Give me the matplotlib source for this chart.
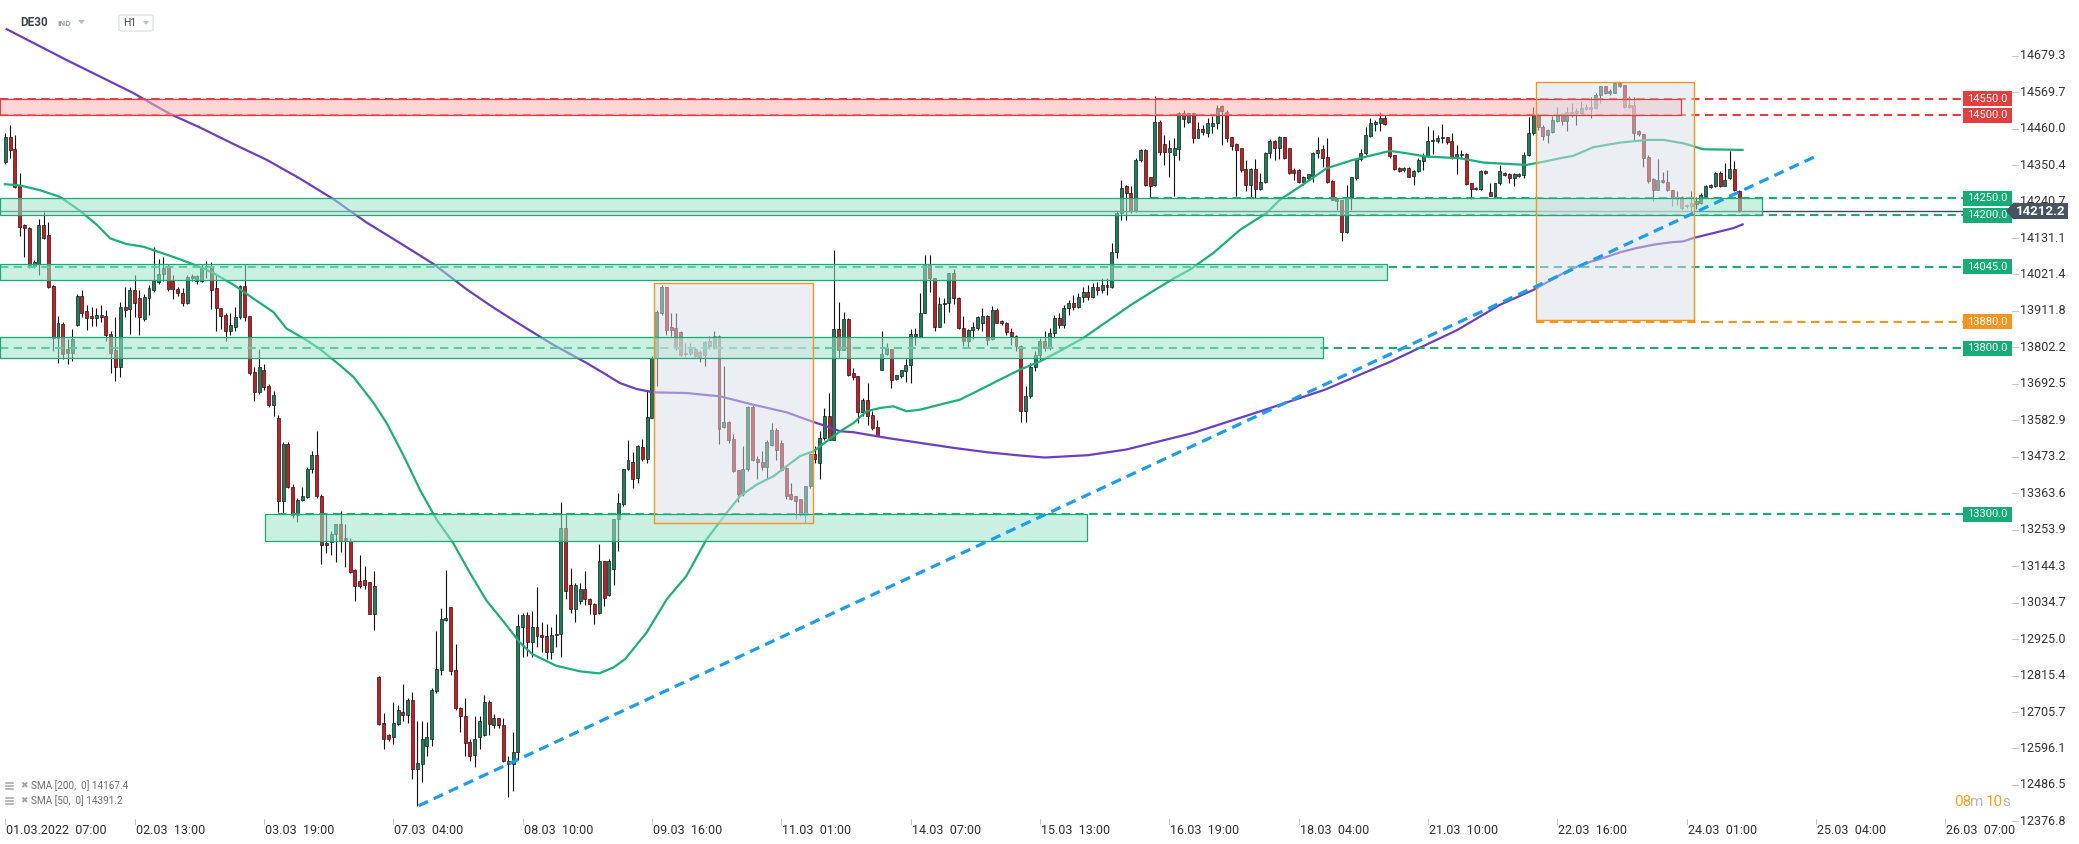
import numpy as np
import matplotlib
matplotlib.use("Agg")
import matplotlib.pyplot as plt
from matplotlib.patches import Rectangle, Polygon, FancyBboxPatch
from matplotlib.transforms import blended_transform_factory

plt.rcParams['font.family'] = ['Roboto', 'DejaVu Sans']

# ---- hourly candles DE30 (bar 0 = 01.03.2022 07:00) ----
opens = [
    14359, 14435, 14400, 14289, 14169, 14160, 14046, 14053, 14169, 14139,
    13987, 13831, 13874, 13797, 13786, 13869, 13956, 13911, 13897, 13891,
    13901, 13897, 13841, 13794, 13744, 13924, 13919, 13974, 13952, 13887,
    13952, 13974, 14000, 14022, 14044, 14002, 13977, 13966, 13935, 14010,
    14002, 14002, 14044, 14046, 13980, 13922, 13901, 13852, 13863, 13894,
    13988, 13897, 13727, 13669, 13734, 13686, 13630, 13591, 13339, 13512,
    13383, 13297, 13342, 13353, 13436, 13480, 13356, 13214, 13217, 13242,
    13272, 13228, 13221, 13133, 13100, 13103, 13096, 12999, 12811, 12673,
    12638, 12631, 12670, 12707, 12698, 12742, 12534, 12548, 12603, 12624,
    12770, 12832, 12981, 13022, 12832, 12717, 12693, 12617, 12578, 12631,
    12638, 12735, 12666, 12687, 12666, 12559, 12548, 12587, 12960, 12997,
    12915, 12960, 12937, 12935, 12885, 12937, 12940, 13258, 13087, 13015,
    13040, 13075, 13047, 13030, 13003, 13160, 13057, 13137, 13285, 13330,
    13437, 13457, 13410, 13503, 13467, 13590, 13770, 13905, 13983, 13863,
    13860, 13847, 13785, 13785, 13797, 13787, 13780, 13807, 13800, 13837,
    13563, 13577, 13527, 13433, 13360, 13437, 13623, 13467, 13457, 13443,
    13510, 13555, 13515, 13440, 13360, 13355, 13345, 13297, 13385, 13483,
    13455, 13530, 13597, 13523, 13858, 13795, 13887, 13725, 13717, 13607,
    13645, 13600, 13563, 13735, 13783, 13797, 13707, 13717, 13730, 13750,
    13843, 13835, 13907, 14050, 14010, 13865, 13933, 13935, 14027, 13950,
    13860, 13820, 13855, 13860, 13877, 13897, 13827, 13915, 13883, 13877,
    13847, 13835, 13805, 13610, 13657, 13743, 13780, 13820, 13800, 13845,
    13890, 13870, 13920, 13935, 13925, 13955, 13970, 13955, 13985, 13975,
    13990, 13985, 14088, 14206, 14286, 14266, 14211, 14366, 14396, 14316,
    14291, 14481, 14414, 14391, 14381, 14398, 14506, 14481, 14506, 14431,
    14458, 14448, 14468, 14478, 14528, 14511, 14434, 14414, 14401, 14338,
    14291, 14338, 14278, 14301, 14388, 14424, 14401, 14434, 14401, 14336,
    14336, 14301, 14311, 14318, 14386, 14398, 14374, 14304, 14248, 14246,
    14148, 14251, 14311, 14368, 14386, 14438, 14474, 14476, 14491, 14434,
    14381, 14341, 14336, 14341, 14318, 14334, 14364, 14378, 14424, 14424,
    14431, 14434, 14424, 14371, 14384, 14384, 14296, 14281, 14278, 14334,
    14268, 14258, 14296, 14328, 14324, 14311, 14318, 14321, 14381, 14446,
    14501, 14466, 14441, 14451, 14484, 14504, 14484, 14511, 14506, 14508,
    14518, 14526, 14521, 14561, 14588, 14566, 14568, 14596, 14591, 14531,
    14531, 14454, 14444, 14376, 14308, 14276, 14306, 14301, 14274, 14254,
    14254, 14230, 14226, 14234, 14236, 14258, 14291, 14286, 14328, 14288,
    14311, 14338, 14271,
]
highs = [
    14446, 14470, 14442, 14327, 14172, 14165, 14065, 14188, 14210, 14178,
    13990, 13897, 13880, 13827, 13856, 13963, 13974, 13929, 13924, 13922,
    13929, 13915, 13852, 13894, 13938, 13984, 13984, 14019, 13974, 13963,
    13991, 14105, 14067, 14074, 14053, 14019, 13984, 13980, 14019, 14022,
    14019, 14053, 14063, 14060, 14021, 13922, 13905, 13905, 13924, 13991,
    14053, 13897, 13744, 13797, 13752, 13693, 13672, 13600, 13519, 13519,
    13390, 13350, 13383, 13443, 13491, 13550, 13360, 13304, 13249, 13272,
    13311, 13272, 13228, 13137, 13179, 13144, 13096, 13131, 12814, 12703,
    12641, 12735, 12728, 12791, 12749, 12767, 12679, 12679, 12676, 12777,
    12950, 13019, 13134, 13022, 12911, 12721, 12749, 12624, 12693, 12693,
    12756, 12742, 12700, 12687, 12687, 12575, 12645, 13000, 13005, 13007,
    13010, 13083, 12975, 12970, 12960, 13000, 13337, 13305, 13140, 13095,
    13095, 13130, 13050, 13035, 13210, 13160, 13165, 13287, 13365, 13437,
    13523, 13487, 13510, 13527, 13675, 13775, 13915, 13990, 13983, 13905,
    13905, 13850, 13815, 13815, 13800, 13795, 13820, 13837, 13850, 13840,
    13747, 13580, 13543, 13433, 13507, 13627, 13630, 13475, 13490, 13523,
    13575, 13560, 13523, 13443, 13395, 13355, 13345, 13385, 13483, 13505,
    13550, 13620, 13665, 14095, 13940, 13910, 13890, 13740, 13717, 13650,
    13695, 13610, 13585, 13850, 13815, 13797, 13720, 13735, 13767, 13857,
    13860, 13965, 14080, 14080, 14010, 13955, 13950, 14027, 14037, 13955,
    13897, 13857, 13880, 13897, 13920, 13900, 13927, 13920, 13885, 13880,
    13860, 13840, 13810, 13685, 13755, 13790, 13830, 13850, 13860, 13900,
    13905, 13930, 13945, 13960, 13965, 13985, 13990, 13995, 14000, 14010,
    14010, 14116, 14211, 14306, 14291, 14286, 14371, 14398, 14398, 14316,
    14558, 14486, 14441, 14426, 14431, 14511, 14516, 14506, 14506, 14481,
    14470, 14491, 14498, 14531, 14531, 14516, 14436, 14416, 14401, 14366,
    14341, 14368, 14326, 14391, 14428, 14426, 14438, 14436, 14401, 14341,
    14338, 14318, 14324, 14391, 14436, 14411, 14431, 14306, 14251, 14246,
    14291, 14316, 14371, 14398, 14466, 14491, 14486, 14511, 14501, 14436,
    14381, 14346, 14344, 14346, 14336, 14371, 14386, 14468, 14456, 14441,
    14474, 14436, 14448, 14411, 14396, 14386, 14298, 14284, 14336, 14336,
    14296, 14296, 14351, 14331, 14326, 14326, 14328, 14391, 14496, 14526,
    14506, 14471, 14460, 14498, 14526, 14508, 14526, 14536, 14521, 14544,
    14534, 14554, 14566, 14588, 14588, 14578, 14601, 14601, 14591, 14558,
    14556, 14456, 14444, 14381, 14311, 14370, 14331, 14336, 14276, 14271,
    14256, 14234, 14271, 14254, 14266, 14291, 14294, 14331, 14334, 14356,
    14394, 14364, 14274,
]
lows = [
    14355, 14373, 14282, 14137, 14074, 14040, 14040, 14019, 14128, 13980,
    13790, 13755, 13766, 13752, 13762, 13867, 13894, 13855, 13866, 13866,
    13880, 13822, 13725, 13702, 13713, 13894, 13841, 13894, 13838, 13883,
    13901, 13970, 13994, 14002, 13972, 13949, 13956, 13928, 13933, 14002,
    13994, 13998, 14012, 13919, 13852, 13859, 13822, 13838, 13852, 13887,
    13883, 13720, 13641, 13661, 13675, 13623, 13595, 13308, 13300, 13378,
    13290, 13276, 13340, 13350, 13425, 13350, 13151, 13183, 13179, 13158,
    13186, 13142, 13124, 13040, 13078, 13075, 12999, 12953, 12666, 12596,
    12620, 12610, 12666, 12680, 12673, 12503, 12423, 12496, 12575, 12605,
    12763, 12818, 12978, 12818, 12711, 12645, 12573, 12559, 12541, 12596,
    12634, 12638, 12659, 12659, 12555, 12450, 12467, 12560, 12870, 12875,
    12870, 12900, 12885, 12865, 12865, 12900, 12870, 13045, 13005, 12975,
    13030, 13027, 13000, 12970, 13000, 13025, 13055, 13087, 13190, 13325,
    13435, 13380, 13395, 13460, 13455, 13590, 13687, 13900, 13840, 13835,
    13795, 13777, 13775, 13780, 13773, 13757, 13745, 13797, 13797, 13513,
    13560, 13515, 13427, 13337, 13355, 13430, 13460, 13405, 13435, 13407,
    13507, 13465, 13430, 13347, 13343, 13287, 13295, 13275, 13380, 13455,
    13407, 13525, 13523, 13523, 13770, 13793, 13715, 13705, 13575, 13595,
    13570, 13555, 13535, 13733, 13780, 13680, 13705, 13710, 13697, 13695,
    13810, 13835, 13905, 13970, 13850, 13863, 13875, 13910, 13933, 13857,
    13805, 13803, 13827, 13855, 13850, 13810, 13825, 13875, 13870, 13840,
    13810, 13790, 13577, 13577, 13650, 13730, 13765, 13790, 13795, 13830,
    13860, 13860, 13900, 13915, 13920, 13940, 13945, 13950, 13960, 13965,
    13960, 13980, 14071, 14186, 14186, 14206, 14208, 14361, 14286, 14251,
    14288, 14381, 14351, 14316, 14256, 14366, 14466, 14476, 14416, 14431,
    14440, 14436, 14446, 14458, 14411, 14421, 14396, 14258, 14331, 14271,
    14251, 14251, 14274, 14298, 14371, 14366, 14368, 14368, 14324, 14306,
    14298, 14291, 14306, 14301, 14371, 14346, 14296, 14244, 14216, 14121,
    14146, 14216, 14306, 14364, 14381, 14436, 14454, 14454, 14471, 14371,
    14336, 14331, 14331, 14314, 14291, 14331, 14336, 14374, 14384, 14416,
    14416, 14414, 14368, 14324, 14371, 14291, 14248, 14274, 14276, 14324,
    14256, 14251, 14291, 14318, 14296, 14286, 14314, 14311, 14378, 14441,
    14456, 14426, 14416, 14448, 14480, 14471, 14454, 14496, 14471, 14506,
    14516, 14491, 14518, 14538, 14564, 14561, 14566, 14586, 14521, 14521,
    14426, 14438, 14344, 14298, 14241, 14274, 14296, 14271, 14228, 14231,
    14216, 14221, 14211, 14218, 14234, 14256, 14281, 14284, 14284, 14286,
    14308, 14271, 14208,
]
closes = [
    14435, 14396, 14285, 14164, 14160, 14049, 14060, 14169, 14132, 13984,
    13831, 13877, 13783, 13786, 13827, 13956, 13905, 13891, 13891, 13901,
    13894, 13838, 13786, 13744, 13924, 13915, 13974, 13935, 13894, 13955,
    13980, 14002, 14022, 14041, 13977, 13977, 13966, 13935, 14013, 14016,
    14016, 14044, 14046, 13974, 13922, 13897, 13852, 13869, 13894, 13988,
    13894, 13725, 13669, 13744, 13683, 13630, 13658, 13339, 13512, 13383,
    13297, 13342, 13356, 13436, 13480, 13356, 13207, 13207, 13242, 13272,
    13221, 13221, 13128, 13086, 13086, 13089, 12999, 13086, 12670, 12624,
    12624, 12673, 12711, 12698, 12742, 12534, 12553, 12624, 12631, 12773,
    12836, 12985, 12989, 12828, 12717, 12693, 12614, 12575, 12624, 12680,
    12735, 12670, 12687, 12666, 12559, 12548, 12587, 12965, 12997, 12915,
    12960, 12933, 12930, 12885, 12937, 12940, 13258, 13070, 13015, 13087,
    13075, 13045, 13030, 13000, 13160, 13050, 13160, 13287, 13335, 13437,
    13463, 13407, 13507, 13467, 13593, 13770, 13910, 13983, 13855, 13855,
    13805, 13780, 13783, 13797, 13777, 13773, 13817, 13820, 13837, 13557,
    13577, 13523, 13430, 13360, 13437, 13623, 13465, 13457, 13443, 13517,
    13555, 13495, 13435, 13355, 13347, 13340, 13297, 13385, 13483, 13467,
    13530, 13595, 13523, 13858, 13795, 13887, 13720, 13713, 13607, 13645,
    13597, 13560, 13537, 13783, 13800, 13705, 13720, 13733, 13750, 13843,
    13835, 13907, 14050, 14010, 13865, 13933, 13937, 14027, 13950, 13860,
    13820, 13855, 13863, 13895, 13897, 13823, 13915, 13877, 13877, 13847,
    13835, 13805, 13610, 13657, 13743, 13780, 13820, 13800, 13845, 13890,
    13870, 13920, 13935, 13925, 13955, 13970, 13955, 13985, 13975, 13990,
    13985, 14088, 14206, 14281, 14266, 14211, 14366, 14396, 14291, 14288,
    14481, 14391, 14391, 14401, 14401, 14506, 14488, 14506, 14431, 14458,
    14451, 14476, 14478, 14521, 14514, 14431, 14408, 14396, 14336, 14291,
    14338, 14278, 14301, 14388, 14424, 14401, 14436, 14371, 14326, 14326,
    14301, 14314, 14324, 14386, 14396, 14371, 14301, 14246, 14241, 14148,
    14254, 14314, 14368, 14386, 14441, 14478, 14481, 14491, 14474, 14378,
    14338, 14334, 14341, 14316, 14334, 14366, 14378, 14424, 14426, 14431,
    14434, 14421, 14371, 14384, 14381, 14294, 14278, 14278, 14334, 14328,
    14258, 14296, 14334, 14321, 14311, 14324, 14324, 14381, 14446, 14501,
    14466, 14438, 14456, 14486, 14504, 14484, 14511, 14506, 14514, 14521,
    14526, 14518, 14561, 14588, 14566, 14574, 14598, 14588, 14526, 14526,
    14448, 14444, 14371, 14304, 14276, 14306, 14300, 14274, 14254, 14248,
    14221, 14226, 14236, 14241, 14261, 14288, 14284, 14328, 14286, 14306,
    14338, 14276, 14212.2,
]

# moving averages (bar position, value)
sma50_x = [-0.1, 3.1, 7.2, 11.4, 15.6, 19.1, 21.9, 25.3, 28.8, 32.3, 36.5, 40.6,
           43.4, 47.6, 51.8, 56.0, 58.7, 62.9, 65.7, 69.9, 72.7, 76.8, 79.6,
           83.1, 86.6, 90.1, 93.5, 97.0, 100.5, 104.0, 107.4, 110, 115, 120,
           124, 127, 129.4, 133.9, 138.1, 142.2, 146.4, 150.6, 153.4, 156.9,
           160.4, 163.1, 165.9, 168.7, 171.5, 174.3, 177.1, 179.8, 182.6,
           185.4, 188.2, 191.0, 195.1, 199.3, 203.5, 207.6, 211.8, 216, 220,
           225, 230, 235, 240, 244, 247.3, 252.2, 257.8, 263.3, 266.1, 270.3,
           275.9, 281.4, 284.2, 289.1, 292.5, 296.7, 303.7, 308.6, 313.4,
           317.6, 321, 324.6, 327.3, 331.5, 337.1, 342.7, 346.2, 350.3, 354.5,
           362.7]
sma50_y = [14293, 14289, 14275, 14255, 14213, 14171, 14130, 14113, 14105, 14088,
           14067, 14044, 14026, 13991, 13949, 13908, 13859, 13824, 13797, 13748,
           13713, 13637, 13575, 13478, 13373, 13283, 13214, 13124, 13040, 12978,
           12915, 12880, 12845, 12828, 12822, 12840, 12865, 12945, 13045, 13115,
           13225, 13305, 13355, 13390, 13415, 13445, 13475, 13490, 13520, 13550,
           13575, 13610, 13620, 13625, 13610, 13615, 13630, 13645, 13675, 13705,
           13735, 13760, 13790, 13830, 13880, 13930, 13975, 14010, 14036, 14086,
           14156, 14206, 14246, 14286, 14341, 14366, 14376, 14393, 14386, 14376,
           14371, 14358, 14354, 14351, 14360, 14371, 14378, 14404, 14418, 14426,
           14426, 14416, 14398, 14396]
sma200_x = [0.3, 12.7, 26.6, 34.4, 40.7, 47.6, 54.6, 61.5, 68.5, 75.4, 82.4,
            89.4, 96.3, 101.9, 107.5, 114.4, 121.4, 124.9, 128.3, 131.8, 135.3,
            142.2, 149.2, 156.1, 163.1, 167.3, 171.4, 174.3, 177.1, 184.0, 191.0,
            198.0, 204.9, 211.9, 217, 226, 234, 248, 262, 275.5, 289.3, 303.2,
            312, 319, 326.6, 330.1, 333.6, 337.1, 340.6, 344.1, 347.6, 350.3,
            352.4, 355.2, 358.0, 360.8, 362.7]
sma200_y = [14759, 14667, 14568, 14504, 14463, 14414, 14366, 14310, 14248, 14178,
            14116, 14053, 13977, 13922, 13871, 13810, 13755, 13725, 13695, 13677,
            13667, 13665, 13655, 13630, 13607, 13585, 13565, 13550, 13547, 13530,
            13515, 13500, 13487, 13477, 13471, 13478, 13495, 13545, 13610, 13675,
            13760, 13855, 13930, 13975, 14036, 14056, 14071, 14088, 14101, 14111,
            14118, 14121, 14131, 14141, 14151, 14161, 14172]

# drawings
trend_x = [86.3, 378.0]
trend_y = [12424, 14377]
zone_lo = [14500, 14200, 14005, 13770, 13220]
zone_hi = [14550, 14250, 14052, 13833, 13300]
zone_x0 = [-1.2, -1.2, -1.2, -1.2, 54.2]
zone_x1 = [349.8, 366.7, 288.4, 275.1, 225.8]
zone_kind = ['red', 'green', 'green', 'green', 'green']
level_vals = [14550, 14500, 14250, 14200, 14045, 13880, 13800, 13300]
level_kind = ['red', 'red', 'green', 'green', 'green', 'orange', 'green', 'green']
level_x0 = [-1.2, -1.2, 239, 239, -1.2, 319.5, -1.2, 57]
box_x0 = [135.4, 319.5]
box_x1 = [168.6, 352.6]
box_lo = [13275, 13885]
box_hi = [13995, 14601]
last_price = 14212.2

yticks = [14679.3, 14569.7, 14460.0, 14350.4, 14240.7, 14131.1, 14021.4, 13911.8,
          13802.2, 13692.5, 13582.9, 13473.2, 13363.6, 13253.9, 13144.3, 13034.7,
          12925.0, 12815.4, 12705.7, 12596.1, 12486.5, 12376.8]
xtick_labels = ['01.03.2022  07:00', '02.03  13:00', '03.03  19:00', '07.03  04:00',
                '08.03  10:00', '09.03  16:00', '11.03  01:00', '14.03  07:00',
                '15.03  13:00', '16.03  19:00', '18.03  04:00', '21.03  10:00',
                '22.03  16:00', '24.03  01:00', '25.03  04:00', '26.03  07:00']
bars_per_label = 27

# ---- layout (pixels of the 2079x844 picture) ----
W, H = 2079, 844
X0_PX, BAR_PX = 5.3, 4.79
P_TOP, P_PER_PX = 14846.8, 3.007

COL = {'green': '#15ac76', 'red': '#e53e3e', 'orange': '#f7941d'}
FILL = {'green': '#9de4ca', 'red': '#fbb3b3'}
CANDLE_UP, CANDLE_DN = '#11845a', '#d9141b'

fig = plt.figure(figsize=(W / 100, H / 100), dpi=100)
ax = fig.add_axes([0, 0, 1, 1])
ax.set_xlim(-X0_PX / BAR_PX, (W - X0_PX) / BAR_PX)
ax.set_ylim(P_TOP - P_PER_PX * H, P_TOP)
ax.axis('off')
bl = blended_transform_factory(ax.transAxes, ax.transData)
bx = blended_transform_factory(ax.transData, ax.transAxes)


def fx(px):
    return px / W


def fy(py):
    return 1 - py / H


def bar_at(px):
    return (px - X0_PX) / BAR_PX


# candles
o = np.array(opens, float)
h = np.array(highs, float)
l = np.array(lows, float)
c = np.array(closes, float)
idx = np.arange(len(c))
col = np.where(c >= o, CANDLE_UP, CANDLE_DN)
ax.vlines(idx, l, h, color='#111111', lw=0.8, zorder=2)
body_lo = np.minimum(o, c)
body_h = np.maximum(np.abs(c - o), 3)
ax.bar(idx, body_h, bottom=body_lo, width=0.62, color=col,
       edgecolor='#1a1a1a', linewidth=0.5, zorder=2.1)

# moving averages
ax.plot(sma200_x, sma200_y, color='#6a3fc4', lw=1.6, zorder=2.5)
ax.plot(sma50_x, sma50_y, color='#1bb07a', lw=1.6, zorder=2.5)

# horizontal levels
lab_left = bar_at(1963)
for v, k, x0 in zip(level_vals, level_kind, level_x0):
    ax.plot([x0, lab_left], [v, v], color=COL[k], lw=1.5,
            ls=(0, (4, 2.6)), zorder=2.6)
ax.plot([bar_at(0), bar_at(2013)], [last_price, last_price],
        color='#3e4c57', lw=1.0, zorder=2.6)

# zones (translucent overlays)
for lo, hi, x0, x1, k in zip(zone_lo, zone_hi, zone_x0, zone_x1, zone_kind):
    ax.add_patch(Rectangle((x0, lo), x1 - x0, hi - lo, facecolor=FILL[k],
                           edgecolor='none', alpha=0.55, zorder=3))
    ax.add_patch(Rectangle((x0, lo), x1 - x0, hi - lo, facecolor='none',
                           edgecolor=COL[k], lw=0.9, zorder=3.1))

for x0, x1, lo, hi in zip(box_x0, box_x1, box_lo, box_hi):
    ax.add_patch(Rectangle((x0, lo), x1 - x0, hi - lo, facecolor='#d9dfe6',
                           edgecolor='none', alpha=0.5, zorder=3))
    ax.add_patch(Rectangle((x0, lo), x1 - x0, hi - lo, facecolor='none',
                           edgecolor=COL['orange'], lw=1.0, zorder=3.1))

# trend line
ax.plot(trend_x, trend_y, color='#1a9ded', lw=2.3, ls=(0, (3.2, 2.0)),
        solid_capstyle='butt', dash_capstyle='butt', zorder=4)

# price axis
for v in yticks:
    ax.plot([fx(2012), fx(2018)], [v, v], transform=bl, color='#c3c9cf',
            lw=0.8, zorder=5)
    ax.text(fx(2020), v, f'{v:.1f}', transform=bl, fontsize=9,
            color='#333333', va='center', ha='left', zorder=5)

box_h = 15 * P_PER_PX
for v, k in zip(level_vals, level_kind):
    ax.add_patch(Rectangle((fx(1963), v - box_h / 2), fx(49), box_h,
                           transform=bl, facecolor=COL[k], edgecolor='none',
                           zorder=6))
    ax.text(fx(1987.5), v, f'{v:.1f}', transform=bl, fontsize=8,
            color='white', ha='center', va='center', zorder=7)

th = 8 * P_PER_PX
tag = [(fx(2006), last_price), (fx(2013), last_price + th),
       (fx(2068), last_price + th), (fx(2068), last_price - th),
       (fx(2013), last_price - th)]
ax.add_patch(Polygon(tag, closed=True, transform=bl, facecolor='#46545f',
                     edgecolor='none', zorder=8))
ax.text(fx(2041), last_price, f'{last_price:.1f}', transform=bl, fontsize=9.5,
        fontweight='bold', color='white', ha='center', va='center', zorder=9)

# time axis
for i, lab in enumerate(xtick_labels):
    b = i * bars_per_label
    ax.plot([b, b], [fy(819), fy(824)], transform=bx, color='#c3c9cf',
            lw=0.8, zorder=5)
    ax.text(b + 0.2, fy(830), lab, transform=bx, fontsize=9,
            color='#2e2e2e', ha='left', va='center', zorder=5)

# header
ax.text(fx(20), fy(22), 'DE30', transform=ax.transAxes, fontsize=8.5,
        fontweight='bold', color='#3b4552', va='center')
ax.text(fx(57), fy(23), 'IND', transform=ax.transAxes, fontsize=6,
        fontweight='bold', color='#9aa1a8', va='center')
ax.add_patch(Polygon([(fx(78), fy(20)), (fx(85), fy(20)), (fx(81.5), fy(24))],
                     transform=ax.transAxes, facecolor='#b8bec4',
                     edgecolor='none'))
ax.add_patch(FancyBboxPatch((fx(119), fy(31)), fx(34), 16 / H,
                            boxstyle='round,pad=0,rounding_size=0.0015',
                            transform=ax.transAxes, facecolor='white',
                            edgecolor='#d8dde2', lw=0.8))
ax.text(fx(123), fy(23), 'H1', transform=ax.transAxes, fontsize=7.5,
        color='#444444', va='center')
ax.add_patch(Polygon([(fx(143), fy(21)), (fx(149), fy(21)), (fx(146), fy(25))],
                     transform=ax.transAxes, facecolor='#b8bec4',
                     edgecolor='none'))

# indicator legend
legend_rows = ['SMA [200,  0] 14167.4', 'SMA [50,  0] 14391.2']
for row, txt in zip([786, 801], legend_rows):
    for dy in (-3, 0, 3):
        ax.plot([fx(6), fx(13)], [fy(row + dy), fy(row + dy)],
                transform=ax.transAxes, color='#a3a3a3', lw=1.1)
    ax.text(fx(20), fy(row), '\u2716', transform=ax.transAxes, fontsize=6.5,
            color='#a3a3a3', va='center', family=['DejaVu Sans'])
    ax.text(fx(31), fy(row), txt, transform=ax.transAxes, fontsize=7.2,
            color='#6d6d6d', va='center')

# candle timer
for x, t, cl in [(1954, '08', '#f7a01c'), (1970, 'm', '#b3b9bf'),
                 (1986, '10', '#f7a01c'), (2002, 's', '#b3b9bf')]:
    ax.text(fx(x), fy(802), t, transform=ax.transAxes, fontsize=11,
            color=cl, va='center', ha='left')

fig.savefig('out.png', dpi=100)
